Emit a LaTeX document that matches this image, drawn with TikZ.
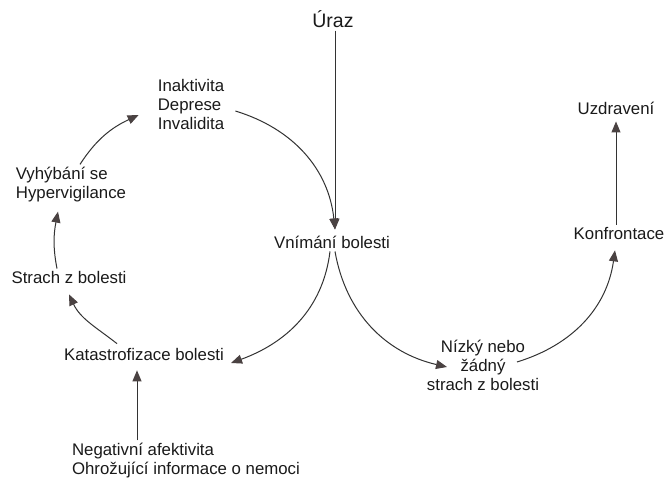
\documentclass[tikz,border=0pt]{standalone}
\usepackage{fontspec}
\setmainfont{Liberation Sans}
\usetikzlibrary{arrows.meta}
\definecolor{ink}{HTML}{1A1A1A}
\definecolor{wire}{HTML}{333333}
\definecolor{head}{HTML}{4A4242}

\begin{document}
\begin{tikzpicture}[x=1pt,y=1pt,
  lbl/.style={inner sep=3pt, text=ink, font=\fontsize{16.8}{19}\selectfont},
  arr/.style={draw=wire, line width=1pt, -{Triangle[length=11pt,width=9pt,color=head]}},
]
\useasboundingbox[fill=white] (0,0) rectangle (665,478);

% labels
\node[lbl,font=\fontsize{19.5}{22}\selectfont] (uraz) at (333,459) {Úraz};
\node[lbl] (vnim) at (332,236) {Vnímání bolesti};
\node[lbl,align=left] (inak) at (191,373) {Inaktivita\\Deprese\\Invalidita};
\node[lbl,align=left] (vyh) at (71,293) {Vyhýbání se\\Hypervigilance};
\node[lbl] (strach) at (69,200) {Strach z bolesti};
\node[lbl] (kat) at (144,123) {Katastrofizace bolesti};
\node[lbl,align=left] (neg) at (186,17) {Negativní afektivita\\Ohrožující informace o nemoci};
\node[lbl,align=center] (nizky) at (483,113) {Nízký nebo\\žádný\\strach z bolesti};
\node[lbl] (konf) at (619,244) {Konfrontace};
\node[lbl] (uzd) at (616,370) {Uzdravení};

% connectors
\coordinate (utop) at ([xshift=2pt]uraz.south);
\coordinate (vtop) at ([yshift=3pt]utop |- vnim.north);
\draw[arr] (utop) -- (vtop);
\draw[arr] ([shift={(8,-6)}]inak.east) to[out=-17,in=96] (vtop);
\draw[arr] ([xshift=-2pt]vnim.south) to[out=-97,in=20] ([shift={(4,-8)}]kat.east);
\draw[arr] ([shift={(-27,2)}]kat.north) to[out=142,in=-65] ([yshift=-7pt]strach.south);
\draw[arr] ([xshift=-12pt]strach.north) to[out=101,in=-101] ([shift={(-13,-6)}]vyh.south);
\draw[arr] ([xshift=9pt]vyh.north) to[out=57,in=-155] ([shift={(-16,-10)}]inak.west);
\draw[arr,shorten >=6pt] ([xshift=-49pt]neg.north) -- ([xshift=-49pt]neg.north |- kat.south);
\draw[arr] ([xshift=3pt]vnim.south) to[out=-80,in=167] ([shift={(-36,-2)}]nizky.center);
\draw[arr] ([shift={(34,3)}]nizky.center) to[out=17,in=-98] ([shift={(-4,-7)}]konf.south);
\draw[arr,shorten >=4pt] ([xshift=-3pt]konf.north) -- ([xshift=-3pt]konf.north |- uzd.south);
\end{tikzpicture}
\end{document}
